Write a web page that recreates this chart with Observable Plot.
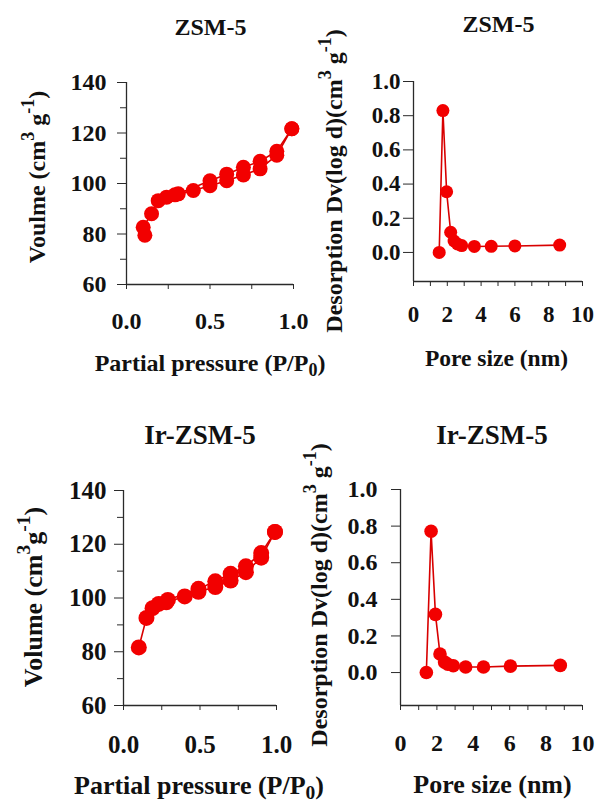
<!DOCTYPE html>
<html><head><meta charset="utf-8">
<script src="https://cdn.jsdelivr.net/npm/d3@7"></script>
<script src="https://cdn.jsdelivr.net/npm/@observablehq/plot@0.6"></script>
<style>
body{margin:0;background:#fff;}
#page{position:relative;width:595px;height:803px;overflow:hidden;background:#fff;}
</style></head><body><div id="page"></div>
<script>
// ---- data ----
const titles = ["ZSM-5", "ZSM-5", "Ir-ZSM-5", "Ir-ZSM-5"];

// ZSM-5 N2 isotherm
const zsmAdsP = [0.11, 0.10, 0.15, 0.19, 0.24, 0.29, 0.40, 0.50, 0.60, 0.70, 0.80, 0.90, 0.99];
const zsmAdsV = [79.5, 82.7, 88.0, 93.2, 94.6, 95.5, 97.2, 99.1, 101.1, 103.4, 105.8, 111.2, 121.7];
const zsmDesP = [0.99, 0.90, 0.80, 0.70, 0.60, 0.50, 0.31];
const zsmDesV = [121.7, 112.8, 108.8, 106.4, 103.7, 101.1, 95.9];

// Ir-ZSM-5 N2 isotherm
const irAdsP = [0.10, 0.15, 0.19, 0.23, 0.28, 0.40, 0.49, 0.60, 0.70, 0.80, 0.90, 0.99];
const irAdsV = [81.6, 92.6, 96.2, 97.8, 98.4, 100.6, 102.3, 104.1, 106.5, 109.6, 115.0, 124.6];
const irDesP = [0.99, 0.90, 0.80, 0.70, 0.60, 0.49, 0.29];
const irDesV = [124.6, 116.7, 111.8, 109.0, 106.2, 103.4, 99.3];

// Pore size distributions
const zsmPore = [1.52, 1.74, 1.96, 2.20, 2.40, 2.60, 2.85, 3.60, 4.60, 6.00, 8.65];
const zsmDv   = [0.000, 0.830, 0.355, 0.118, 0.067, 0.050, 0.040, 0.035, 0.036, 0.038, 0.043];
const irPore  = [1.42, 1.68, 1.92, 2.17, 2.42, 2.60, 2.90, 3.58, 4.56, 6.04, 8.78];
const irDv    = [0.000, 0.772, 0.318, 0.101, 0.057, 0.045, 0.037, 0.030, 0.030, 0.035, 0.039];

// tick values
const isoXMajor = [0, 0.5, 1.0], isoXMinor = [0.25, 0.75];
const isoYMajor = [60, 80, 100, 120, 140], isoYMinor = [70, 90, 110, 130];
const poreXMajor = [0, 2, 4, 6, 8, 10], poreXMinor = [1, 3, 5, 7, 9];
const poreYMajor = [0, 0.2, 0.4, 0.6, 0.8, 1.0];

// ---- drawing ----
const page = document.getElementById("page");
const RED = "#f20000", LINE = "#d80000", AX = "#2a2a2a";
const FONT = "'Liberation Serif', 'Times New Roman', Times, Tinos, 'Nimbus Roman', 'Nimbus Roman No9 L', FreeSerif, 'Noto Serif', 'DejaVu Serif', Georgia, serif";
const zip = (xs, ys) => xs.map((x, i) => ({x, y: ys[i]}));

function panel(o) {
  const [fx0, fx1, fy0, fy1] = o.frame;
  const series = o.series;
  const all = series.flat();
  const svg = Plot.plot({
    width: o.width, height: o.height,
    marginLeft: fx0 - o.left, marginRight: o.left + o.width - fx1,
    marginTop: fy0 - o.top, marginBottom: o.top + o.height - fy1,
    x: {domain: o.xDomain}, y: {domain: o.yDomain},
    style: {position: "absolute", left: o.left + "px", top: o.top + "px", overflow: "visible",
            background: "transparent", fontFamily: FONT, fontWeight: "bold", fontSize: o.fs + "px", color: "#111"},
    marks: [
      Plot.ruleX([o.xDomain[0]], {stroke: AX, strokeWidth: 1.3}),
      Plot.ruleY([o.yDomain[0]], {stroke: AX, strokeWidth: 1.3}),
      Plot.axisY({ticks: o.yMajor, tickSize: o.yTick, tickPadding: o.yPad, tickFormat: o.yFmt, label: null, fontSize: o.fs, stroke: AX}),
      ...(o.yMinor ? [Plot.axisY({ticks: o.yMinor, tickSize: o.yTick - 3, tickFormat: () => "", label: null, stroke: AX})] : []),
      Plot.axisX({ticks: o.xMajor, tickSize: 5, tickPadding: o.xPad, tickFormat: o.xFmt, label: null, fontSize: o.fs, stroke: AX}),
      Plot.axisX({ticks: o.xMinor, tickSize: 5, tickFormat: () => "", label: null, stroke: AX}),
      ...series.map(s => Plot.line(s, {x: "x", y: "y", stroke: LINE, strokeWidth: 1.6})),
      Plot.dot(all, {x: "x", y: "y", r: o.r, fill: RED, stroke: "none"})
    ]
  });
  page.appendChild(svg);
}

const f1 = d3.format(".1f"), f0 = d3.format("d");

panel({left: 0, top: 0, width: 300, height: 400, frame: [126, 293, 82, 284],
  xDomain: [0, 1], yDomain: [60, 140], xMajor: isoXMajor, xMinor: isoXMinor, yMajor: isoYMajor, yMinor: isoYMinor,
  yTick: 9, yPad: 11, xPad: 22, xFmt: f1, yFmt: f0, fs: 24, r: 7.5,
  series: [zip(zsmAdsP, zsmAdsV), zip(zsmDesP, zsmDesV)]});

panel({left: 300, top: 0, width: 295, height: 400, frame: [413, 582, 81, 281],
  xDomain: [0, 10], yDomain: [-0.17, 1.0], xMajor: poreXMajor, xMinor: poreXMinor, yMajor: poreYMajor,
  yTick: 10, yPad: 3, xPad: 19, xFmt: f0, yFmt: f1, fs: 23, r: 6.5,
  series: [zip(zsmPore, zsmDv)]});

panel({left: 0, top: 400, width: 300, height: 403, frame: [123, 276, 490, 705],
  xDomain: [0, 1], yDomain: [60, 140], xMajor: isoXMajor, xMinor: isoXMinor, yMajor: isoYMajor, yMinor: isoYMinor,
  yTick: 9, yPad: 8, xPad: 25, xFmt: f1, yFmt: f0, fs: 25, r: 8,
  series: [zip(irAdsP, irAdsV), zip(irDesP, irDesV)]});

panel({left: 300, top: 400, width: 295, height: 403, frame: [400, 582, 489, 705],
  xDomain: [0, 10], yDomain: [-0.18, 1.0], xMajor: poreXMajor, xMinor: poreXMinor, yMajor: poreYMajor,
  yTick: 9, yPad: 14, xPad: 23, xFmt: f0, yFmt: f1, fs: 24, r: 6.8,
  series: [zip(irPore, irDv)]});

// ---- text overlay (titles and axis labels) ----
const ov = d3.select(page).append("svg")
  .attr("width", 595).attr("height", 803)
  .style("position", "absolute").style("left", "0px").style("top", "0px").style("pointer-events", "none")
  .style("font-family", FONT).style("font-weight", "bold").attr("fill", "#111");

function title(txt, x, y, fs) {
  ov.append("text").attr("x", x).attr("y", y).attr("text-anchor", "middle").attr("font-size", fs).text(txt);
}
title(titles[0], 210.5, 35, 24);
title(titles[1], 498.5, 32, 24);
title(titles[2], 200, 444, 27);
title(titles[3], 492, 444, 27);

// text with rich parts: [text, kind] kind: n normal, sup, sub
function rich(parts, x, y, fs, rotate) {
  const t = ov.append("text").attr("text-anchor", "middle").attr("font-size", fs)
    .attr("transform", `translate(${x},${y})` + (rotate ? " rotate(-90)" : ""));
  let shift = 0;
  for (const [s, k] of parts) {
    const target = k === "sup" ? -0.45 * fs : k === "sub" ? 0.2 * fs : 0;
    const ts = t.append("tspan").text(s).attr("dy", target - shift);
    if (k !== "n") ts.attr("font-size", fs * 0.75);
    shift = target;
  }
}
const xLabIso = [["Partial pressure (P/P", "n"], ["0", "sub"], [")", "n"]];
const xLabPore = [["Pore size (nm)", "n"]];
rich(xLabIso, 210, 371, 24, false);
rich(xLabPore, 496.5, 366, 23.5, false);
rich(xLabIso, 199, 794, 26, false);
rich(xLabPore, 492.5, 793, 26, false);

rich([["Voulme (cm", "n"], ["3", "sup"], [" g", "n"], ["-1", "sup"], [")", "n"]], 45, 177, 24, true);
rich([["Desorption Dv(log d)(cm", "n"], ["3", "sup"], [" g", "n"], ["-1", "sup"], [")", "n"]], 342, 181, 24, true);
rich([["Volume (cm", "n"], ["3", "sup"], ["g", "n"], ["-1", "sup"], [")", "n"]], 42, 597, 26, true);
rich([["Desorption Dv(log d)(cm", "n"], ["3", "sup"], [" g", "n"], ["-1", "sup"], [")", "n"]], 327, 595, 24, true);
</script>
</body></html>
